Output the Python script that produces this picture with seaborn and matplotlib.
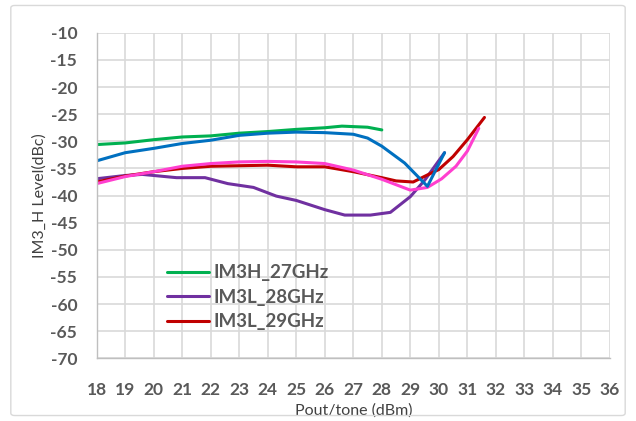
import matplotlib
matplotlib.use("Agg")
import matplotlib.pyplot as plt
from matplotlib.patches import FancyBboxPatch
import seaborn as sns
import pandas as pd

# Measured IM3 level vs output power per tone
im3h_27_x = [18, 19, 20, 21, 22, 23, 24, 25, 26, 26.6, 27.5, 28]
im3h_27_y = [-30.6, -30.3, -29.7, -29.2, -29.0, -28.5, -28.2, -27.8, -27.5, -27.2, -27.4, -27.9]

im3h_28_x = [18, 19, 20, 21, 22, 23, 24, 25, 26, 27, 27.5, 28, 28.8, 29.6, 30.2]
im3h_28_y = [-33.6, -32.1, -31.3, -30.4, -29.8, -28.9, -28.5, -28.3, -28.4, -28.7, -29.4, -30.9, -34.0, -38.3, -32.1]

im3l_28_x = [18, 19, 19.6, 20.8, 21.8, 22.6, 23.5, 24.3, 25, 26, 26.7, 27.6, 28.3, 29, 29.5, 30.2]
im3l_28_y = [-36.9, -36.3, -36.1, -36.7, -36.7, -37.8, -38.5, -40.1, -40.9, -42.6, -43.6, -43.6, -43.1, -40.2, -37.2, -32.1]

im3l_29_x = [18, 19, 20, 21, 22, 23, 24, 25, 26, 27, 28, 28.5, 29.1, 29.6, 30.0, 30.5, 31.0, 31.6]
im3l_29_y = [-37.5, -36.4, -35.6, -35.0, -34.6, -34.5, -34.4, -34.7, -34.7, -35.6, -36.7, -37.3, -37.5, -36.2, -35.2, -32.8, -29.7, -25.6]

im3h_29_x = [18, 19, 20, 21, 22, 23, 24, 25, 26, 27, 28, 29, 29.6, 30.1, 30.6, 31.0, 31.4]
im3h_29_y = [-37.8, -36.5, -35.6, -34.6, -34.1, -33.8, -33.7, -33.8, -34.1, -35.3, -37.0, -39.0, -38.5, -36.9, -34.6, -31.8, -27.6]

# drawing order: later series sit on top
series = [
    ("IM3L_28GHz", im3l_28_x, im3l_28_y, "#7030A0"),
    ("IM3L_29GHz", im3l_29_x, im3l_29_y, "#C00000"),
    ("IM3H_29GHz", im3h_29_x, im3h_29_y, "#FF3FCF"),
    ("IM3H_27GHz", im3h_27_x, im3h_27_y, "#00B050"),
    ("IM3H_28GHz", im3h_28_x, im3h_28_y, "#0070C0"),
]
legend_names = ["IM3H_27GHz", "IM3L_28GHz", "IM3L_29GHz"]

x_ticks = list(range(18, 37))
y_ticks = list(range(-70, -9, 5))

sns.set_theme(style="white")
plt.rcParams["font.family"] = ["Lato", "DejaVu Sans"]

fig = plt.figure(figsize=(6.36, 4.21), dpi=100)
ax = fig.add_axes([0.152, 0.149, 0.807, 0.773])

# light rounded frame around the whole chart
fig.patches.append(FancyBboxPatch((0.017, 0.013), 0.966, 0.974,
                                  boxstyle="round,pad=0,rounding_size=0.006",
                                  transform=fig.transFigure, fill=False,
                                  edgecolor="#d9d9d9", linewidth=1.0))

handles = {}
for name, xs, ys, color in series:
    df = pd.DataFrame({"Pout": xs, "Level": ys})
    sns.lineplot(data=df, x="Pout", y="Level", sort=False, estimator=None,
                 color=color, linewidth=2.2, ax=ax, label=name)
    handles[name] = ax.get_lines()[-1]

ax.set_xlim(18, 36)
ax.set_ylim(-70, -10)
ax.set_xticks(x_ticks)
ax.set_yticks(y_ticks)
ax.set_xticklabels([str(v) for v in x_ticks])
ax.set_yticklabels([str(v) for v in y_ticks])
ax.grid(True, color="#d9d9d9", linewidth=1.2)
ax.set_axisbelow(True)
for side in ["top", "right"]:
    ax.spines[side].set_visible(False)
for side in ["left", "bottom"]:
    ax.spines[side].set_color("#bfbfbf")
    ax.spines[side].set_linewidth(1.0)

ax.tick_params(axis="both", length=0, labelsize=12.5, labelcolor="#595959")
ax.tick_params(axis="x", pad=17)
ax.tick_params(axis="y", pad=14)
for lab in ax.get_xticklabels() + ax.get_yticklabels():
    lab.set_fontweight("bold")

ax.set_xlabel("Pout/tone (dBm)", fontsize=11.5, color="#404040", labelpad=4)
ax.set_ylabel("IM3_H Level(dBc)", fontsize=11.5, color="#404040", labelpad=3)

leg = ax.legend([handles[n] for n in legend_names], legend_names,
                loc="upper left", bbox_to_anchor=(0.105, 0.34), frameon=False,
                handlelength=2.2, handletextpad=0.25, labelspacing=0.4,
                prop={"size": 13.5, "weight": "bold"})
for t in leg.get_texts():
    t.set_color("#595959")

fig.savefig("out.png", dpi=100)
